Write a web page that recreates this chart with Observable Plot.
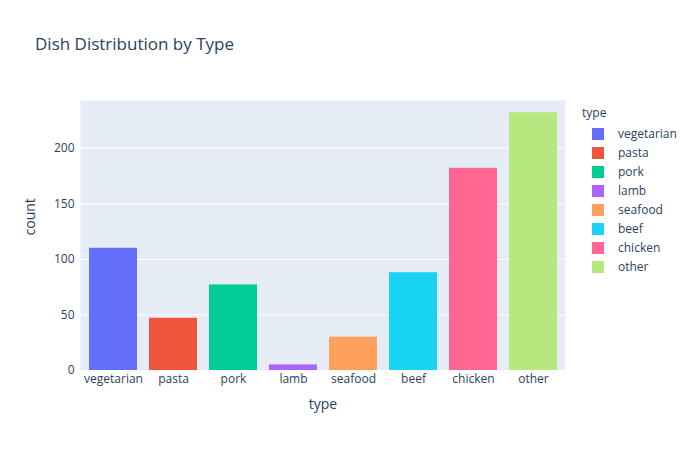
<!DOCTYPE html>
<html><head><meta charset="utf-8">
<script src="https://cdn.jsdelivr.net/npm/d3@7"></script>
<script src="https://cdn.jsdelivr.net/npm/@observablehq/plot@0.6"></script>
<style>
body{margin:0;font-family:"Open Sans",sans-serif;background:#fff}
#wrap{position:relative;width:700px;height:450px}
#title{position:absolute;left:35px;top:32px;font-size:17px;color:#2a3f5f}
#legend{position:absolute;left:582px;top:104px;font-size:12px;color:#2a3f5f}
.li{display:flex;align-items:center;height:19px;margin-left:10px}
.sw{width:12px;height:12px;margin-right:14px}
</style></head><body>
<div id="wrap"><div id="title">Dish Distribution by Type</div><div id="chart"></div><div id="legend"><div style="margin-bottom:3px">type</div></div></div>
<script>
const types = ["vegetarian","pasta","pork","lamb","seafood","beef","chicken","other"];
const counts = [110,47,77,5,30,88,182,232];
const colors = ["#636EFA","#EF553B","#00CC96","#AB63FA","#FFA15A","#19D3F3","#FF6692","#B6E880"];
const yTicks = [0,50,100,150,200];
const data = types.map((t,i)=>({type:t,count:counts[i]}));
const chart = Plot.plot({
  width:700,height:450,marginLeft:80,marginRight:135,marginTop:100,marginBottom:80,
  style:{fontFamily:"Open Sans",fontSize:"12px",color:"#2a3f5f"},
  x:{domain:types,paddingInner:0.2,paddingOuter:0.1,label:null,tickSize:0},
  y:{domain:[0,243],ticks:yTicks,label:null,tickSize:0},
  color:{domain:types,range:colors},
  marks:[
    Plot.frame({fill:"#E5ECF6",stroke:null}),
    Plot.gridY(yTicks,{stroke:"white",strokeOpacity:1,strokeWidth:1}),
    Plot.barY(data,{x:"type",y:"count",fill:"type"}),
    Plot.axisX({tickSize:0,tickPadding:4,fontSize:12,label:null}),
    Plot.axisY(yTicks,{tickSize:0,tickPadding:6,fontSize:12,label:null}),
    Plot.text(["type"],{frameAnchor:"bottom",dy:38,fontSize:14,fill:"#2a3f5f"}),
    Plot.text(["count"],{frameAnchor:"left",dx:-50,rotate:-90,fontSize:14,fill:"#2a3f5f"})
  ]
});
document.getElementById("chart").appendChild(chart);
const lg=document.getElementById("legend");
types.forEach((t,i)=>{const d=document.createElement("div");d.className="li";d.innerHTML=`<div class="sw" style="background:${colors[i]}"></div>${t}`;lg.appendChild(d);});
</script></body></html>
